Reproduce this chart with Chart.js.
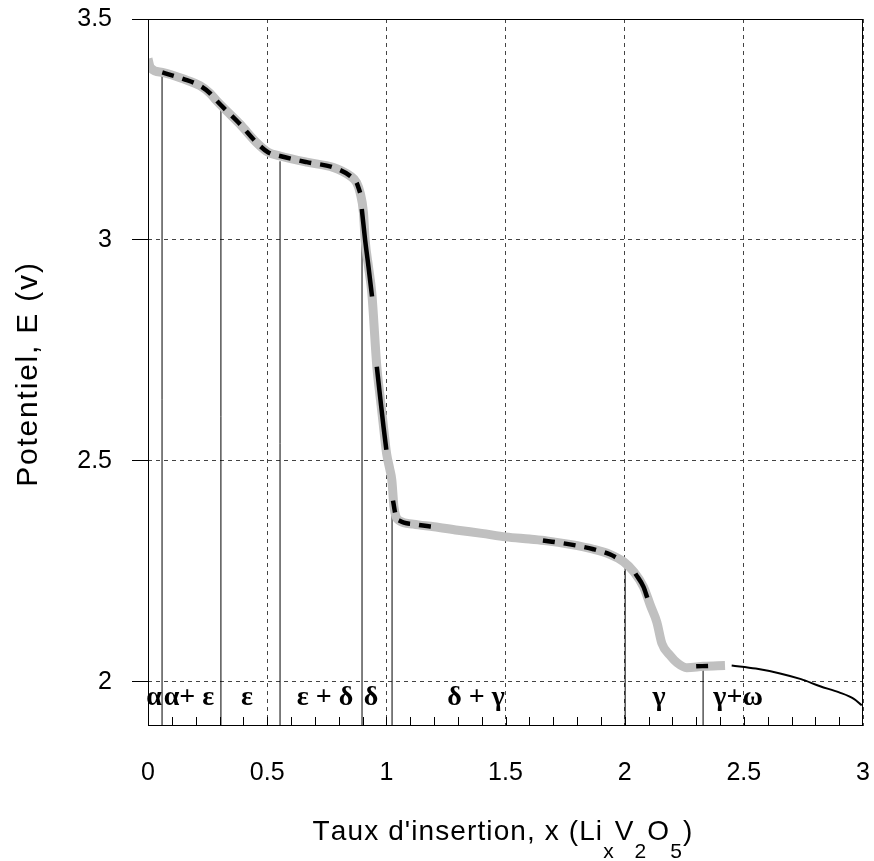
<!DOCTYPE html>
<html>
<head>
<meta charset="utf-8">
<script src="https://cdn.jsdelivr.net/npm/chart.js@4"></script>
<style>
  body { margin: 0; background: #fff; }
  #wrap { width: 874px; height: 861px; }
</style>
</head>
<body>
<div id="wrap"><canvas id="chart"></canvas></div>
<script>
// experimental discharge curve (thick grey)
const curveX = [0, 0.01, 0.06, 0.15, 0.218, 0.26, 0.288, 0.33, 0.386, 0.456, 0.505, 0.554, 0.666, 0.778, 0.848, 0.875, 0.89,
  0.904, 0.911, 0.925, 0.939, 0.96, 0.975, 0.988, 1.001, 1.015, 1.023, 1.032, 1.04, 1.057, 1.113, 1.2, 1.3, 1.4, 1.501,
  1.6, 1.673, 1.77, 1.869, 1.94, 1.995, 2.04, 2.079, 2.11, 2.135, 2.156, 2.19, 2.22, 2.26, 2.33, 2.421];
const curveY = [3.41, 3.39, 3.379, 3.364, 3.349, 3.332, 3.315, 3.292, 3.262, 3.22, 3.198, 3.19, 3.176, 3.164, 3.145, 3.13, 3.107,
  3.062, 3.0, 2.94, 2.88, 2.714, 2.64, 2.578, 2.517, 2.48, 2.457, 2.396, 2.375, 2.364, 2.357, 2.351, 2.343, 2.336, 2.328,
  2.323, 2.319, 2.311, 2.30, 2.288, 2.272, 2.248, 2.215, 2.17, 2.135, 2.087, 2.06, 2.043, 2.032, 2.035, 2.037];

// black dashed overlay (null = gap)
const dashX = [0.06, 0.15, 0.218, 0.26, 0.288, 0.33, 0.386, 0.456, 0.505, 0.554, 0.666, 0.778, 0.848, 0.875, 0.89, 0.892,
  1.028, 1.04, 1.057, 1.113, 1.21, 1.3,
  1.657, 1.77, 1.869, 1.94, 1.995];
const dashY = [3.379, 3.364, 3.349, 3.332, 3.315, 3.292, 3.262, 3.22, 3.198, 3.19, 3.176, 3.164, 3.145, 3.13, 3.107, null,
  2.41, 2.375, 2.364, 2.357, 2.35, null,
  2.32, 2.311, 2.30, 2.288, 2.272];

// black solid pieces on the steep parts
const solidX = [0.897, 0.911, 0.925, 0.94, 0.95, 0.96, 0.975, 0.988, 1.0, 1.02, 2.045, 2.079, 2.095, 2.2, 2.30, 2.35];
const solidY = [3.07, 3.0, 2.94, 2.872, null, 2.713, 2.64, 2.578, 2.525, null, 2.245, 2.215, 2.19, null, 2.035, 2.036];

// thin black tail
const tailX = [2.449, 2.55, 2.652, 2.74, 2.82, 2.9, 2.96, 2.995];
const tailY = [2.037, 2.03, 2.019, 2.006, 1.99, 1.976, 1.962, 1.947];

// phase boundaries
const boundaryX = [0.059, 0.306, 0.554, 0.898, 1.024, 2.002, 2.329];
const boundaryTop = [3.379, 3.30, 3.178, 3.03, 2.46, 2.269, 2.035];

// phase labels
const phaseLabels = ['α', 'α+ ε', 'ε', 'ε + δ', 'δ', 'δ + γ', 'γ', 'γ+ω'];
const phaseX = [0.025, 0.172, 0.415, 0.743, 0.936, 1.376, 2.144, 2.476];
const phaseY = 1.947;

const yTicks = [2, 2.5, 3, 3.5];
const yMin = 1.9, yMax = 3.5;

const pts = (xs, ys) => xs.map((x, i) => ({ x: x, y: ys[i] }));

const datasets = [
    {
        data: pts(curveX, curveY),
        borderColor: '#c0c0c0',
        borderWidth: 9,
        order: 5
    },
    {
        data: pts(dashX, dashY),
        borderColor: '#000',
        borderWidth: 4.5,
        borderDash: [12, 9],
        order: 1
    },
    {
        data: pts(solidX, solidY),
        borderColor: '#000',
        borderWidth: 4.5,
        order: 1
    },
    {
        data: pts(tailX, tailY),
        borderColor: '#000',
        borderWidth: 2,
        order: 1
    }
];

boundaryX.forEach((bx, i) => {
    datasets.push({
        data: [{ x: bx, y: yMin }, { x: bx, y: boundaryTop[i] }],
        borderColor: '#000',
        borderWidth: 1,
        cubicInterpolationMode: 'default',
        tension: 0,
        order: 6
    });
});

// draw text char by char with extra spacing, returns the end x
function spaced(ctx, text, x, y, gap, draw) {
    for (const ch of text) {
        if (draw) ctx.fillText(ch, x, y);
        x += ctx.measureText(ch).width + gap;
    }
    return x;
}

const decor = {
    id: 'decor',
    afterDraw(chart) {
        const ctx = chart.ctx;
        const a = chart.chartArea;
        const xs = chart.scales.x;
        const ys = chart.scales.y;
        ctx.save();

        // frame
        ctx.strokeStyle = '#000';
        ctx.lineWidth = 1;
        ctx.strokeRect(a.left + 0.5, a.top + 0.5, a.right - a.left - 1, a.bottom - a.top - 1);

        // minor ticks along the bottom, pointing inwards
        ctx.beginPath();
        for (let i = 1; i < 30; i++) {
            const px = Math.round(xs.getPixelForValue(i / 10)) + 0.5;
            ctx.moveTo(px, a.bottom);
            ctx.lineTo(px, a.bottom - 9);
        }
        ctx.stroke();

        // phase labels
        ctx.fillStyle = '#000';
        ctx.font = 'bold 28px "Liberation Serif"';
        ctx.textAlign = 'center';
        ctx.textBaseline = 'alphabetic';
        phaseLabels.forEach((t, i) => {
            ctx.fillText(t, xs.getPixelForValue(phaseX[i]), ys.getPixelForValue(phaseY));
        });

        ctx.textAlign = 'left';

        // y title
        ctx.font = '30px "Liberation Sans"';
        const yt = 'Potentiel, E (v)';
        const yg = 1.8;
        const yw = spaced(ctx, yt, 0, 0, yg, false) - yg;
        ctx.save();
        ctx.translate(37, 375);
        ctx.rotate(-Math.PI / 2);
        spaced(ctx, yt, -yw / 2, 0, yg, true);
        ctx.restore();

        // x title with subscripts
        const parts = [
            ['Taux d\'insertion, x (Li', false], ['x', true], ['V', false], ['2', true],
            ['O', false], ['5', true], [')', false]
        ];
        const big = '28px "Liberation Sans"', small = '21px "Liberation Sans"';
        const gap = 1.1;
        let w = 0;
        parts.forEach(p => { ctx.font = p[1] ? small : big; w = spaced(ctx, p[0], w, 0, gap, false); });
        let cx = 503 - w / 2;
        parts.forEach(p => {
            ctx.font = p[1] ? small : big;
            cx = spaced(ctx, p[0], cx, p[1] ? 858 : 840, gap, true);
        });
        ctx.restore();
    }
};

new Chart(document.getElementById('chart'), {
    type: 'line',
    data: { datasets: datasets },
    options: {
        responsive: true,
        maintainAspectRatio: false,
        animation: false,
        layout: { padding: { top: 19, right: 11, left: 0, bottom: 0 } },
        elements: {
            point: { radius: 0 },
            line: { cubicInterpolationMode: 'monotone', fill: false, borderCapStyle: 'butt' }
        },
        plugins: {
            legend: { display: false },
            tooltip: { enabled: false }
        },
        scales: {
            x: {
                type: 'linear',
                min: 0,
                max: 3,
                ticks: {
                    stepSize: 0.5,
                    color: '#000',
                    font: { family: 'Liberation Sans', size: 25 },
                    padding: 32,
                    maxRotation: 0,
                    callback: v => String(v)
                },
                grid: { color: '#444', drawTicks: false },
                border: { display: false, dash: [4, 4] },
                afterFit: s => { s.height = 135; s.paddingLeft = 0; s.paddingRight = 0; }
            },
            y: {
                type: 'linear',
                min: yMin,
                max: yMax,
                afterBuildTicks: s => { s.ticks = yTicks.map(v => ({ value: v })); },
                ticks: {
                    color: '#000',
                    font: { family: 'Liberation Sans', size: 25 },
                    padding: 20,
                    callback: v => String(v)
                },
                grid: { color: '#444', tickLength: 16, tickColor: '#000' },
                border: { display: false, dash: [4, 4] },
                afterFit: s => { s.width = 148; s.paddingTop = 0; s.paddingBottom = 0; }
            }
        }
    },
    plugins: [decor]
});
</script>
</body>
</html>
